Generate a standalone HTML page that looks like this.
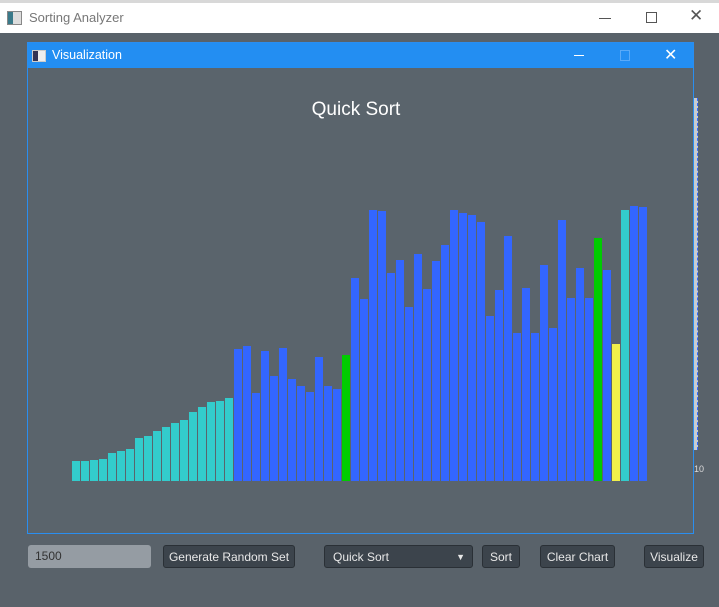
<!DOCTYPE html>
<html><head><meta charset="utf-8">
<style>
body{margin:0;width:719px;height:607px;background:#59626a;position:relative;overflow:hidden;font-family:"Liberation Sans",sans-serif;}
.abs{position:absolute;}
.btn{position:absolute;top:545px;height:23px;background:#3c444c;border:1px solid #2a3036;border-radius:3px;color:#e8e8e8;font-size:12px;line-height:22px;text-align:center;box-sizing:border-box;}
</style></head><body>
<div class="abs" style="left:0;top:0;width:719px;height:3px;background:#d8d8d8"></div>
<div class="abs" style="left:0;top:3px;width:719px;height:30px;background:#fff">
  <div class="abs" style="left:7px;top:8px;width:13px;height:12px;border:1px solid #888;background:linear-gradient(90deg,#3a7a8a 40%,#ddd 40%)"></div>
  <div class="abs" style="left:29px;top:7px;font-size:13px;color:#777">Sorting Analyzer</div>
  <div class="abs" style="left:599px;top:15px;width:12px;height:1px;background:#555"></div>
  <div class="abs" style="left:646px;top:9px;width:9px;height:9px;border:1px solid #555"></div>
  <div class="abs" style="left:689px;top:3px;font-size:17px;color:#555">✕</div>
</div>
<div class="abs" style="left:694px;top:98px;width:3px;height:352px;background:#c8ccd0;border-right:1px dashed #3366ff"></div>
<div class="abs" style="left:694px;top:464px;font-size:9px;color:#ddd">10</div>

<div class="abs" style="left:27px;top:42px;width:665px;height:490px;background:#5a646c;border:1px solid #2a8ef0">
  <div class="abs" style="left:0;top:0;width:665px;height:25px;background:#238ef2">
    <div class="abs" style="left:4px;top:7px;width:12px;height:10px;border:1px solid #ccc;background:linear-gradient(90deg,#335 40%,#eee 40%)"></div>
    <div class="abs" style="left:24px;top:5px;font-size:12.5px;color:#fff">Visualization</div>
    <div class="abs" style="left:546px;top:12px;width:10px;height:1px;background:#fff"></div>
    <div class="abs" style="left:592px;top:7px;width:8px;height:9px;border:1px solid #5aaaf8"></div>
    <div class="abs" style="left:636px;top:2px;font-size:16px;color:#fff">✕</div>
  </div>
</div>
<svg class="abs" style="left:0;top:0" width="719" height="607">
<text x="356" y="115" text-anchor="middle" font-size="19" fill="#fff" font-family="Liberation Sans, sans-serif">Quick Sort</text>
<g id="bars"></g>
</svg>
<script>
const values=[20,20,21,22,28,30,32,43,45,50,54,58,61,69,74,79,80,83,132,135,88,130,105,133,102,95,89,124,95,92,126,203,182,271,270,208,221,174,227,192,220,236,271,268,266,259,165,191,245,148,193,148,216,153,261,183,213,183,243,211,137,271,275,274];
const states=["s","s","s","s","s","s","s","s","s","s","s","s","s","s","s","s","s","s","u","u","u","u","u","u","u","u","u","u","u","u","p","u","u","u","u","u","u","u","u","u","u","u","u","u","u","u","u","u","u","u","u","u","u","u","u","u","u","u","p","u","c","s","u","u"];
const colors={s:"#33cccc",u:"#3366ff",p:"#00cc00",c:"#f0f04a"};
const x0=72,pitch=9,bw=8,base=481;
const xs=i=>x0+i*pitch, ys=v=>base-v;
const g=document.getElementById('bars');
values.forEach((v,i)=>{
  const r=document.createElementNS('http://www.w3.org/2000/svg','rect');
  r.setAttribute('x',xs(i));r.setAttribute('y',ys(v));r.setAttribute('width',bw);r.setAttribute('height',v);
  r.setAttribute('fill',colors[states[i]]);
  
  
  g.appendChild(r);
});
</script>
<div class="abs" style="left:28px;top:545px;width:123px;height:23px;background:#959ca3;border-radius:3px;box-sizing:border-box;padding-left:7px;font-size:12px;line-height:23px;color:#333">1500</div>
<div class="btn" style="left:163px;width:132px">Generate Random Set</div>
<div class="btn" style="left:324px;width:149px;text-align:left;padding-left:8px">Quick Sort<span style="position:absolute;right:7px;font-size:9px">▼</span></div>
<div class="btn" style="left:482px;width:38px">Sort</div>
<div class="btn" style="left:540px;width:75px">Clear Chart</div>
<div class="btn" style="left:644px;width:60px">Visualize</div>
</body></html>
